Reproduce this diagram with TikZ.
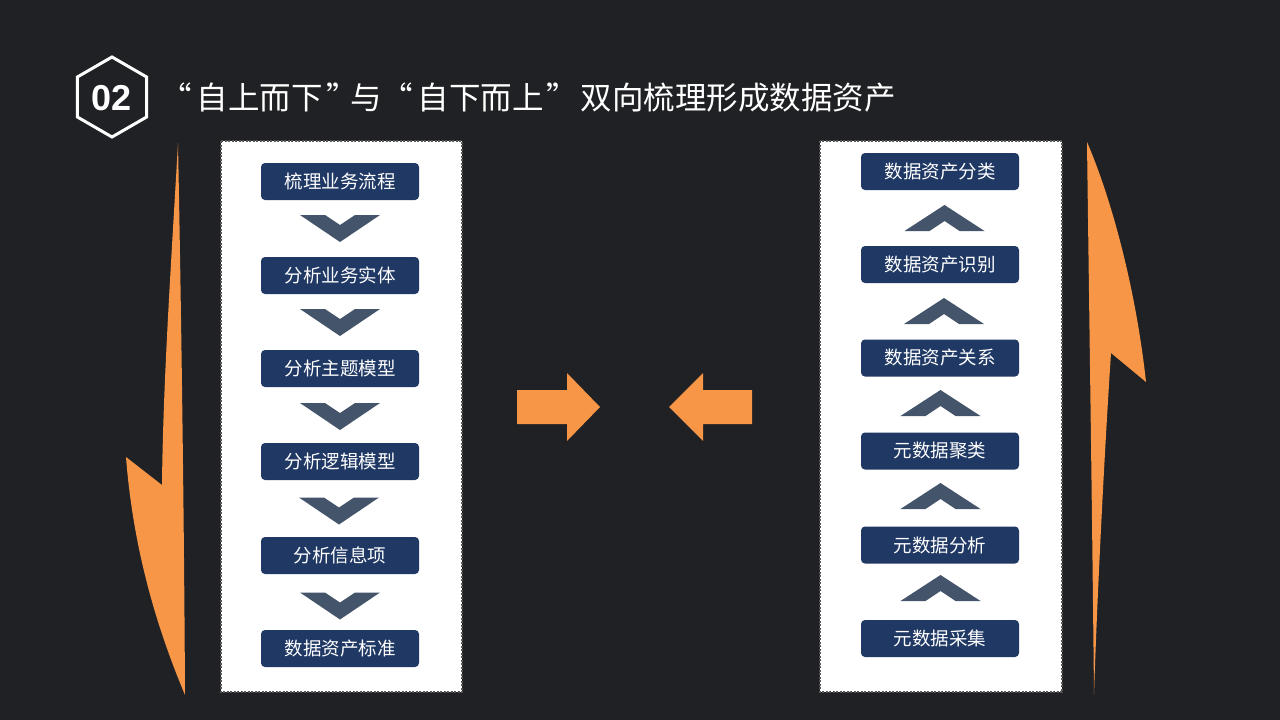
\documentclass[tikz,border=0pt]{standalone}
\usepackage{fontspec}
\setmainfont{Liberation Sans}
\newfontfamily\cjk{Noto Sans CJK SC}
\definecolor{bg}{HTML}{202124}
\definecolor{navy}{HTML}{1F3864}
\definecolor{chevc}{HTML}{44546A}
\definecolor{orng}{HTML}{F79646}
\definecolor{dashc}{HTML}{555555}
\newcommand{\tpiece}[1]{\makebox[0pt][c]{#1}}
\tikzset{
  stepbox/.style={fill=navy, rounded corners=4pt, minimum width=158pt, minimum height=37pt,
    inner sep=0pt, text=white, font=\cjk\fontsize{18.5}{20}\selectfont},
  panel/.style={fill=white, draw=dashc, line width=1.2pt, dash pattern=on 2pt off 1.5pt},
  downchev/.pic={\fill[chevc] (-40,-13.5) -- (-15,-13.5) -- (0,-3.5) -- (15,-13.5) -- (40,-13.5) -- (0,13.5) -- cycle;},
  upchev/.pic={\fill[chevc] (-40,13) -- (-15,13) -- (0,3) -- (15,13) -- (40,13) -- (0,-13) -- cycle;},
}
\begin{document}
\begin{tikzpicture}[x=1pt,y=-1pt]
\useasboundingbox (0,0) rectangle (1280,720);
\fill[bg] (0,0) rectangle (1280,720);

% header
\draw[white, line width=3pt, line join=miter] (112,57) -- (146.64,77) -- (146.64,117) -- (112,137) -- (77.36,117) -- (77.36,77) -- cycle;
\node[text=white, font=\fontsize{36}{38}\bfseries\selectfont, inner sep=0pt] (num) at (112,98) {02};
\node[anchor=west, inner sep=0pt, text=white, font=\cjk\fontsize{31.5}{33}\selectfont] (title) at (176,98)
  {\tpiece{“}\hspace{83.5pt}\tpiece{自上而下}\hspace{82.5pt}\tpiece{”}\hspace{24.5pt}\tpiece{与}\hspace{30.5pt}\tpiece{“}\hspace{83.5pt}\tpiece{自下而上}\hspace{81.5pt}\tpiece{”}\hspace{176pt}\tpiece{双向梳理形成数据资产}};

% panels
\draw[panel] (221,141) rectangle (462,692);
\draw[panel] (820,141) rectangle (1062,692);

% left column
\node[stepbox] (l1) at (340,181.5) {梳理业务流程};
\node[stepbox] (l2) at (340,275.5) {分析业务实体};
\node[stepbox] (l3) at (340,368.5) {分析主题模型};
\node[stepbox] (l4) at (340,461.5) {分析逻辑模型};
\node[stepbox] (l5) at (340,555.5) {分析信息项};
\node[stepbox] (l6) at (340,648.5) {数据资产标准};
\pic at (340,228.5) {downchev};
\pic at (340,322.5) {downchev};
\pic at (340,416.5) {downchev};
\pic at (339,511) {downchev};
\pic at (340,606) {downchev};

% right column
\node[stepbox] (r6) at (940,171.5) {数据资产分类};
\node[stepbox] (r5) at (940,264.5) {数据资产识别};
\node[stepbox] (r4) at (940,358) {数据资产关系};
\node[stepbox] (r3) at (940,451) {元数据聚类};
\node[stepbox] (r2) at (940,545) {元数据分析};
\node[stepbox] (r1) at (940,638.5) {元数据采集};
\pic at (944.5,218) {upchev};
\pic at (944,311) {upchev};
\pic at (940.5,403) {upchev};
\pic at (940.5,496) {upchev};
\pic at (940.5,588) {upchev};

% middle arrows
\fill[orng] (517,390) -- (567,390) -- (567,373) -- (600,407) -- (567,441) -- (567,424) -- (517,424) -- cycle;
\fill[orng] (752,390) -- (703,390) -- (703,373) -- (669,407) -- (703,441) -- (703,424) -- (752,424) -- cycle;

% side lightning arrows
\fill[orng] (178,143) .. controls (181,300) and (184,500) .. (185,695)
  .. controls (162,640) and (134,560) .. (126,457)
  -- (162,485)
  .. controls (163,380) and (172,250) .. (178,143) -- cycle;
\fill[orng] (1087,142) .. controls (1112,200) and (1136,290) .. (1146,382)
  -- (1111,353)
  .. controls (1104,460) and (1097,600) .. (1094,695)
  .. controls (1092,500) and (1089,300) .. (1087,142) -- cycle;
\end{tikzpicture}
\end{document}
